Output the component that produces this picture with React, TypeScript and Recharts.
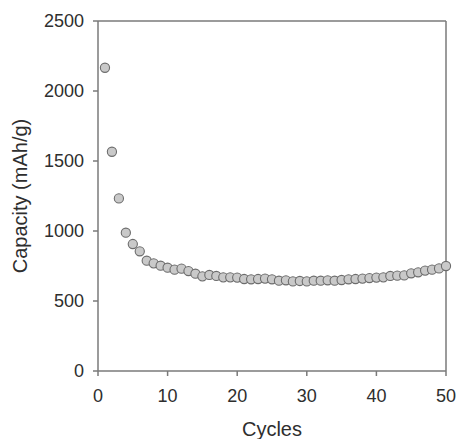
import React from 'react';
import { ScatterChart, Scatter, XAxis, YAxis, ReferenceLine, Label } from 'recharts';

const cycles = [
  1, 2, 3, 4, 5, 6, 7, 8, 9, 10,
  11, 12, 13, 14, 15, 16, 17, 18, 19, 20,
  21, 22, 23, 24, 25, 26, 27, 28, 29, 30,
  31, 32, 33, 34, 35, 36, 37, 38, 39, 40,
  41, 42, 43, 44, 45, 46, 47, 48, 49, 50,
];
const capacity = [
  2166, 1566, 1233, 988, 907, 855, 788, 769, 752, 738,
  724, 731, 714, 695, 676, 686, 679, 669, 669, 667,
  657, 655, 657, 660, 655, 645, 648, 640, 643, 640,
  645, 645, 648, 645, 650, 655, 657, 660, 664, 667,
  669, 679, 681, 683, 698, 705, 717, 724, 733, 750,
];
const xTicks = [0, 10, 20, 30, 40, 50];
const yTicks = [0, 500, 1000, 1500, 2000, 2500];
const xLabel = 'Cycles';
const yLabel = 'Capacity (mAh/g)';

const data = cycles.map((c, i) => ({ cycle: c, capacity: capacity[i] }));

const AXIS = '#7a7a7a';
const TEXT = '#2e2e2e';
const FONT = '"Liberation Sans", Arial, sans-serif';

const Dot = (props: any) => (
  <circle cx={props.cx} cy={props.cy} r={4.6} fill="#c9c9c9" stroke="#6c6c6c" strokeWidth={1.1} />
);

export default function App() {
  return (
    <div style={{ position: 'absolute', left: 0, top: 0, background: '#fff' }}>
      <ScatterChart
        width={457}
        height={439}
        margin={{ top: 21, right: 11, left: 0, bottom: 0 }}
        style={{ fontFamily: FONT }}
      >
        <XAxis
          type="number"
          dataKey="cycle"
          domain={[0, 50]}
          ticks={xTicks}
          height={68}
          tickSize={5}
          tickMargin={13}
          stroke={AXIS}
          strokeWidth={1.5}
          tick={{ fill: TEXT, fontSize: 18, fontFamily: FONT }}
          interval={0}
        >
          <Label
            content={(p: any) => {
              const vb = p.viewBox;
              return (
                <text x={vb.x + vb.width / 2} y={vb.y + 65} textAnchor="middle" fill={TEXT} fontSize={20} fontFamily={FONT}>
                  {xLabel}
                </text>
              );
            }}
          />
        </XAxis>
        <YAxis
          type="number"
          dataKey="capacity"
          domain={[0, 2500]}
          ticks={yTicks}
          width={98}
          tickSize={5}
          tickMargin={9}
          stroke={AXIS}
          strokeWidth={1.5}
          tick={{ fill: TEXT, fontSize: 18, fontFamily: FONT }}
          interval={0}
        >
          <Label
            content={(p: any) => {
              const vb = p.viewBox;
              const cx = 27;
              const cy = vb.y + vb.height / 2;
              return (
                <text x={cx} y={cy} textAnchor="middle" fill={TEXT} fontSize={20} fontFamily={FONT} transform={`rotate(-90, ${cx}, ${cy})`}>
                  {yLabel}
                </text>
              );
            }}
          />
        </YAxis>
        <ReferenceLine y={2500} stroke={AXIS} strokeWidth={1.5} />
        <ReferenceLine x={50} stroke={AXIS} strokeWidth={1.5} />
        <Scatter data={data} shape={<Dot />} isAnimationActive={false} />
      </ScatterChart>
    </div>
  );
}
